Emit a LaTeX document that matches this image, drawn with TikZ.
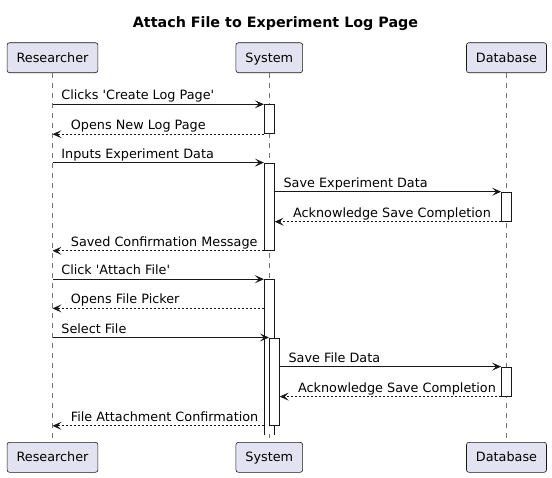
\documentclass[tikz,border=0pt]{standalone}
\usepackage{fontspec}
\setmainfont{DejaVu Sans}
\usetikzlibrary{arrows.meta}
\definecolor{boxfill}{HTML}{E2E2F0}
\definecolor{ink}{HTML}{181818}
\begin{document}
\begin{tikzpicture}[x=1pt, y=-1pt,
  every node/.style={font=\fontsize{12.8}{15}\selectfont},
  actor/.style={draw=ink, fill=boxfill, rounded corners=2.5pt, line width=0.6pt, minimum height=30pt, inner xsep=9.5pt, text height=10pt, text depth=1pt},
  life/.style={draw=ink!60, line width=0.5pt, dash pattern=on 5pt off 5pt},
  bar/.style={draw=ink, fill=white, line width=0.8pt, minimum width=10pt, inner sep=0pt, anchor=north},
  msg/.style={draw=ink, line width=0.8pt, -{Stealth[length=9pt, width=8pt, inset=4pt]}},
  ret/.style={msg, dash pattern=on 2pt off 2pt},
  fwd/.style={pos=0, anchor=base west, xshift=8.5pt, yshift=4.5pt, inner sep=0pt},
  back/.style={pos=1, anchor=base west, xshift=18pt, yshift=4.5pt, inner sep=0pt}]
\useasboundingbox (0,0) rectangle (552,477);
\node[font=\bfseries\fontsize{14.3}{16}\selectfont, anchor=base] (title) at (275.5,27) {Attach File to Experiment Log Page};
\node[actor] (rt) at (52.5,57.7) {Researcher};
\node[actor] (st) at (269.3,57.7) {System};
\node[actor] (dt) at (506.5,57.7) {Database};
\node[actor] (rb) at (52.5,457.3) {Researcher};
\node[actor] (sb) at (269.3,457.3) {System};
\node[actor] (db) at (506.5,457.3) {Database};
\draw[life] (rt) -- (rb);
\draw[life] (st) -- (sb);
\draw[life] (dt) -- (db);
\node[bar, minimum height=29.1pt] (a1) at (269.3,104.3) {};
\node[bar, minimum height=87.4pt] (a2) at (269.3,162.6) {};
\node[bar, draw=none, minimum height=154.8pt] (a3) at (269.3,279.2) {};
\draw[ink, line width=0.8pt] (a3.south west) -- (a3.north west) -- (a3.north east) -- (a3.south east);
\node[bar, minimum height=87.5pt] (a4) at (274.3,337.5) {};
\node[bar, minimum height=29.2pt] (d1) at (506.5,191.7) {};
\node[bar, minimum height=29.2pt] (d2) at (506.5,366.6) {};
\draw[msg] (rt |- a1.north) -- node[fwd] {Clicks \textquotesingle Create Log Page\textquotesingle} (a1.north west);
\draw[ret] (a1.south west) -- node[back] {Opens New Log Page} (rt |- a1.south);
\draw[msg] (rt |- a2.north) -- node[fwd] {Inputs Experiment Data} (a2.north west);
\draw[msg] (a2.east |- d1.north) -- node[fwd] {Save Experiment Data} (d1.north west);
\draw[ret] (d1.south west) -- node[back] {Acknowledge Save Completion} (a2.east |- d1.south);
\draw[ret] (a2.south west) -- node[back] {Saved Confirmation Message} (rt |- a2.south);
\draw[msg] (rt |- a3.north) -- node[fwd] {Click \textquotesingle Attach File\textquotesingle} (a3.north west);
\coordinate (m8) at (52.5,308.4);
\draw[ret] (a3.west |- m8) -- node[back] {Opens File Picker} (m8);
\draw[msg] (rt |- a4.north) -- node[fwd] {Select File} (a4.north west);
\draw[msg] (a4.east |- d2.north) -- node[fwd] {Save File Data} (d2.north west);
\draw[ret] (d2.south west) -- node[back] {Acknowledge Save Completion} (a4.east |- d2.south);
\draw[ret] (a3.west |- a4.south) -- node[back] {File Attachment Confirmation} (rt |- a4.south);
\end{tikzpicture}
\end{document}
